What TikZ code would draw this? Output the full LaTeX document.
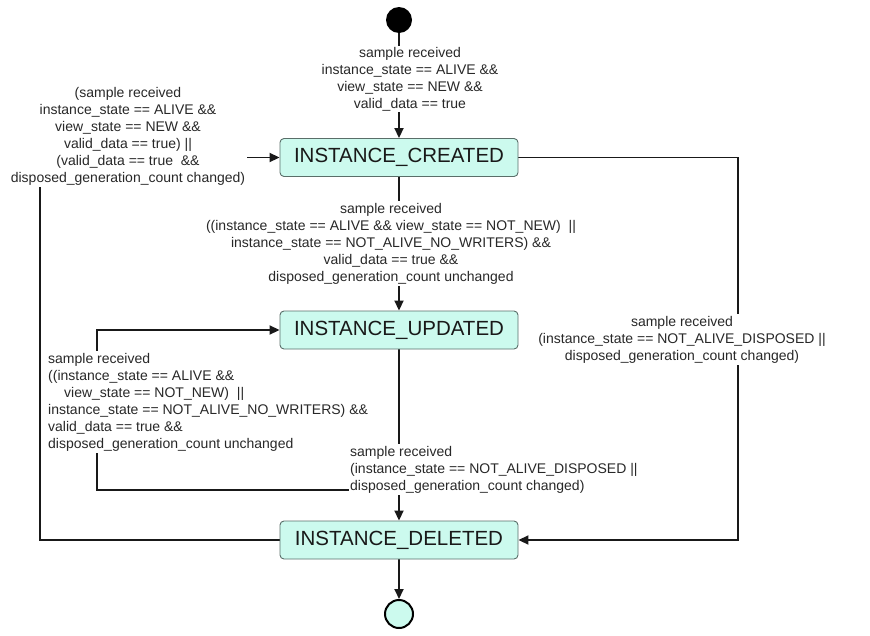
\documentclass[tikz,border=0pt]{standalone}
\usepackage{fontspec}
\setmainfont{Liberation Sans}
\usetikzlibrary{arrows.meta}
\definecolor{statefill}{RGB}{204,250,238}
\definecolor{stateline}{RGB}{90,110,105}
\definecolor{lbltext}{RGB}{40,40,40}
\pgfdeclarelayer{edges}
\pgfdeclarelayer{guards}
\pgfsetlayers{edges,guards,main}

\begin{document}
\begin{tikzpicture}[x=1pt,y=-1pt,
  state/.style={draw=stateline, line width=0.9pt, fill=statefill, rounded corners=4pt,
    minimum width=238pt, minimum height=38pt, inner sep=0pt,
    font=\fontsize{20.5}{24}\selectfont, text=black!90},
  guard/.style={fill=white, inner sep=1.5pt, text=lbltext, font=\fontsize{14}{17}\selectfont},
  flow/.style={line width=1.8pt, draw=black!90},
  arr/.style={flow, -{Triangle[length=10pt,width=9pt]}}]
\useasboundingbox (0,0) rectangle (870,635);

% states
\node[circle, fill=black, minimum size=26pt, inner sep=0pt] (init) at (399,20) {};
\node[state] (created) at (399,157.5) {INSTANCE\_CREATED};
\node[state] (updated) at (399,330) {INSTANCE\_UPDATED};
\node[state] (deleted) at (399,540) {INSTANCE\_DELETED};
\node[circle, draw=black, line width=2pt, fill=statefill, minimum size=28pt, inner sep=0pt] (final) at (399,614) {};

% bend points of the routed transitions
\coordinate (lft) at (40,540);
\coordinate (rgt) at (738,300);
\coordinate (loop) at (97,490);

% transitions
\begin{pgfonlayer}{edges}
\draw[arr] (init) -- (created);
\draw[arr] (created) -- (updated);
\draw[arr] (updated) -- (deleted);
\draw[arr] (deleted) -- (final);
\draw[arr] (deleted.west) -- (lft) -- (lft |- created.west) -- (created.west);
\draw[arr] (created.east) -- (created.east -| rgt) -- (deleted.east -| rgt) -- (deleted.east);
\draw[arr] (updated.south) -- (updated.south |- loop) -- (loop) -- (loop |- updated.west) -- (updated.west);
\end{pgfonlayer}

% guards
\begin{pgfonlayer}{guards}
\node[guard, align=center] (gInit) at (410,79)
  {sample received\\instance\_state == ALIVE \&\&\\view\_state == NEW \&\&\\valid\_data == true};
\node[guard, align=center] (gBack) at (128,136)
  {(sample received\\instance\_state == ALIVE \&\&\\view\_state == NEW \&\&\\valid\_data == true) ||\\(valid\_data == true \ \&\&\\disposed\_generation\_count changed)};
\node[guard, align=center] (gUpd) at (391,243.5)
  {sample received\\((instance\_state == ALIVE \&\& view\_state == NOT\_NEW) \ ||\\instance\_state == NOT\_ALIVE\_NO\_WRITERS) \&\&\\valid\_data == true \&\&\\disposed\_generation\_count unchanged};
\node[guard, align=center] (gDelC) at (682,339.5)
  {sample received\\(instance\_state == NOT\_ALIVE\_DISPOSED ||\\disposed\_generation\_count changed)};
\node[guard, align=left, anchor=west] (gSelf) at (46.5,402)
  {sample received\\((instance\_state == ALIVE \&\&\\\hspace*{16pt}view\_state == NOT\_NEW) \ ||\\instance\_state == NOT\_ALIVE\_NO\_WRITERS) \&\&\\valid\_data == true \&\&\\disposed\_generation\_count unchanged};
\node[guard, align=left, anchor=west] (gDelU) at (348.5,469.5)
  {sample received\\(instance\_state == NOT\_ALIVE\_DISPOSED ||\\disposed\_generation\_count changed)};
\end{pgfonlayer}
\end{tikzpicture}
\end{document}
